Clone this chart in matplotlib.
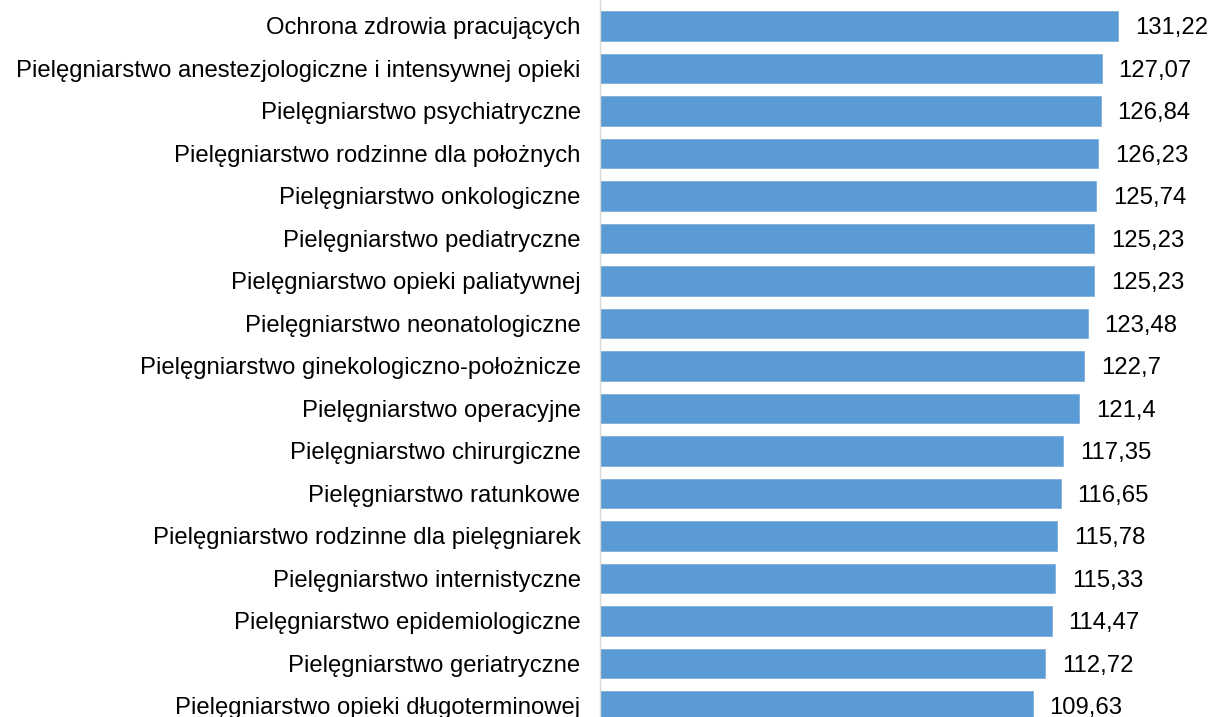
import matplotlib.pyplot as plt

plt.rcParams['font.family'] = ['Liberation Sans', 'DejaVu Sans']

categories = [
    'Ochrona zdrowia pracujących',
    'Pielęgniarstwo anestezjologiczne i intensywnej opieki',
    'Pielęgniarstwo psychiatryczne',
    'Pielęgniarstwo rodzinne dla położnych',
    'Pielęgniarstwo onkologiczne',
    'Pielęgniarstwo pediatryczne',
    'Pielęgniarstwo opieki paliatywnej',
    'Pielęgniarstwo neonatologiczne',
    'Pielęgniarstwo ginekologiczno-położnicze',
    'Pielęgniarstwo operacyjne',
    'Pielęgniarstwo chirurgiczne',
    'Pielęgniarstwo ratunkowe',
    'Pielęgniarstwo rodzinne dla pielęgniarek',
    'Pielęgniarstwo internistyczne',
    'Pielęgniarstwo epidemiologiczne',
    'Pielęgniarstwo geriatryczne',
    'Pielęgniarstwo opieki długoterminowej',
]
values = [131.22, 127.07, 126.84, 126.23, 125.74, 125.23, 125.23, 123.48,
          122.7, 121.4, 117.35, 116.65, 115.78, 115.33, 114.47, 112.72, 109.63]

fig = plt.figure(figsize=(12.14, 7.17), dpi=100)
ax = fig.add_axes([600 / 1214, 0, 1 - 600 / 1214, 1])

y = list(range(len(values)))
ax.barh(y, values, height=0.7, color='#5B9BD5', edgecolor='#7FB0DE', linewidth=0.6)

for yi, v in zip(y, values):
    ax.text(v + 4.2, yi, f"{v:g}".replace('.', ','), va='center_baseline', ha='left',
            fontsize=17.2, color='#000000')

ax.set_yticks(y)
ax.set_yticklabels(categories, fontsize=17.2)
ax.tick_params(axis='y', length=0, pad=14)
ax.set_xticks([])
ax.set_xlim(0, 155.5)
ax.set_ylim(16.26, -0.61)

for s in ['top', 'right', 'bottom']:
    ax.spines[s].set_visible(False)
ax.spines['left'].set_color('#D9D9D9')
ax.spines['left'].set_linewidth(1)

fig.savefig('out.png', dpi=100)
